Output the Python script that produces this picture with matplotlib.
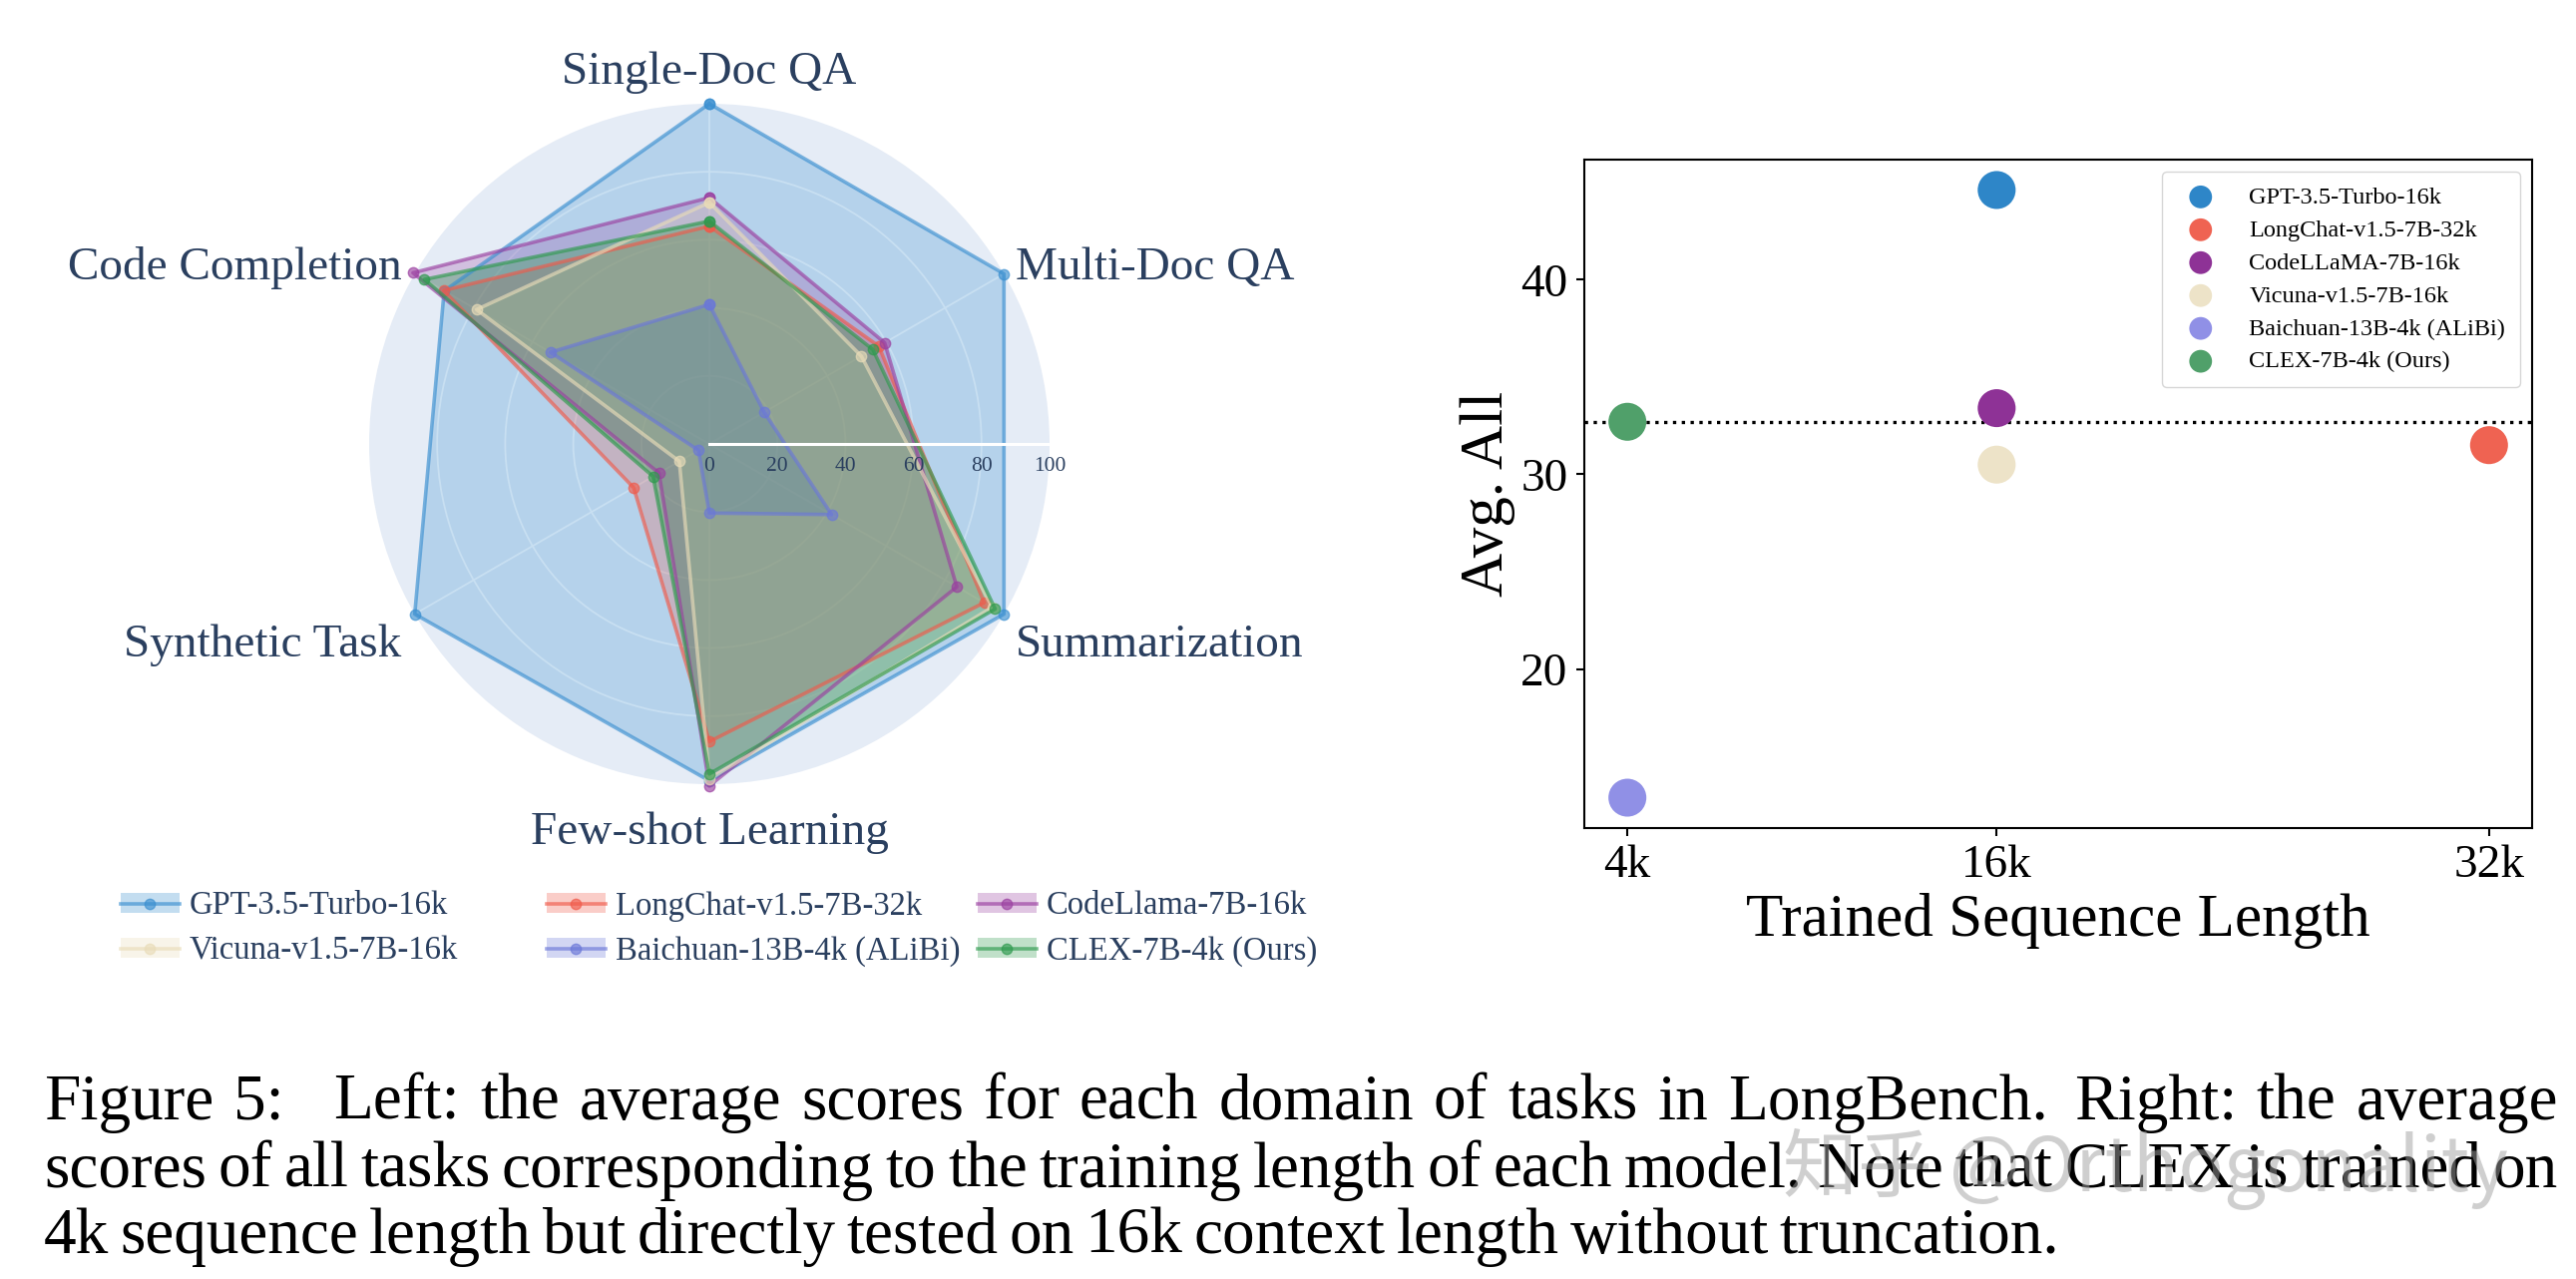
import matplotlib.pyplot as plt
from matplotlib.lines import Line2D
from matplotlib.patches import Patch
import numpy as np

plt.rcParams['font.family'] = ['Liberation Serif', 'DejaVu Serif']

W, H = 2582, 1282

# ---- radar data (left) ----
domains = ['Single-Doc QA', 'Multi-Doc QA', 'Summarization',
           'Few-shot Learning', 'Synthetic Task', 'Code Completion']
radar_models = ['GPT-3.5-Turbo-16k', 'LongChat-v1.5-7B-32k', 'CodeLlama-7B-16k',
                'Vicuna-v1.5-7B-16k', 'Baichuan-13B-4k (ALiBi)', 'CLEX-7B-4k (Ours)']
gpt_scores = [100, 100, 100, 99, 100, 90]
longchat_scores = [64, 57.5, 93.3, 87.5, 25.7, 90.2]
codellama_scores = [72.4, 59.5, 84, 100.5, 17.1, 100.6]
vicuna_scores = [71, 51.6, 96, 98.5, 10.2, 79]
baichuan_scores = [41, 18.6, 41.5, 20.3, 3.7, 53.9]
clex_scores = [65.5, 55.5, 97, 97, 19.1, 96.7]
radar_scores = [gpt_scores, longchat_scores, codellama_scores,
                vicuna_scores, baichuan_scores, clex_scores]

colors = ['#3a8fd0', '#f05a4a', '#9a3fa0', '#e9dcb8', '#6b78d8', '#2f9a4e']
radial_ticks = [0, 20, 40, 60, 80, 100]

# ---- scatter data (right) ----
scatter_models = ['GPT-3.5-Turbo-16k', 'LongChat-v1.5-7B-32k', 'CodeLLaMA-7B-16k',
                  'Vicuna-v1.5-7B-16k', 'Baichuan-13B-4k (ALiBi)', 'CLEX-7B-4k (Ours)']
train_len = [16, 32, 16, 16, 4, 4]
avg_all = [44.6, 31.5, 33.4, 30.5, 13.4, 32.7]
len_ticks = [4, 16, 32]
len_labels = ['4k', '16k', '32k']
scatter_colors = ['#2e86c8', '#ef6352', '#8e3296', '#ede3c8', '#9090e6', '#50a06a']

caption = [
    'Figure 5: Left: the average scores for each domain of tasks in LongBench. Right: the average',
    'scores of all tasks corresponding to the training length of each model. Note that CLEX is trained on',
    '4k sequence length but directly tested on 16k context length without truncation.',
]

txt = '#2a3f5f'
fig = plt.figure(figsize=(W / 100, H / 100), dpi=100)

# ================= radar =================
cx, cy, R = 711, 445, 341
ax = fig.add_axes([(cx - R) / W, (H - cy - R) / H, 2 * R / W, 2 * R / H], projection='polar')
ax.set_theta_offset(np.pi / 2)
ax.set_theta_direction(-1)
ax.set_ylim(0, 100)
ax.set_facecolor('#E5ECF6')
ax.spines['polar'].set_visible(False)
angles = np.linspace(0, 2 * np.pi, len(domains), endpoint=False)
ax.set_xticks(angles)
ax.set_xticklabels([])
ax.set_yticks([20, 40, 60, 80])
ax.set_yticklabels([])
ax.grid(color='white', lw=1.3)
ax.tick_params(length=0)

closed = np.append(angles, angles[0])
fill_alpha = [0.28, 0.25, 0.25, 0.28, 0.3, 0.35]
for vals, c, name, fa in zip(radar_scores, colors, radar_models, fill_alpha):
    v = np.append(vals, vals[0])
    ax.fill(closed, v, color=c, alpha=fa, lw=0, zorder=2)
    ax.plot(closed, v, color=c, lw=2.6, alpha=0.65, marker='o', ms=7.5, zorder=3,
            clip_on=False)

ax.plot([np.pi / 2, np.pi / 2], [0, 100], color='white', lw=2.2, zorder=5)
for t in radial_ticks:
    ax.annotate(str(t), xy=(np.pi / 2, t), xytext=(0, -22), textcoords='offset pixels',
                ha='center', va='center', fontsize=15.5, color=txt, zorder=6)

label_pos = [((0, 31), 'center', 'center'), ((12, 6), 'left', 'center'),
             ((12, -31), 'left', 'center'), ((0, -49), 'center', 'center'),
             ((-13, -31), 'right', 'center'), ((-13, 6), 'right', 'center')]
for a, name, (off, ha, va) in zip(angles, domains, label_pos):
    ax.annotate(name, xy=(a, 100), xytext=off, textcoords='offset pixels',
                ha=ha, va=va, fontsize=34, color=txt, annotation_clip=False)

# radar legend: three columns, row-major
col_x = [121, 548, 980]
for j in range(3):
    hs, ls = [], []
    for i in (j, j + 3):
        hs.append((Patch(facecolor=colors[i], alpha=0.3, lw=0),
                   Line2D([], [], color=colors[i], lw=2.6, alpha=0.65, marker='o', ms=7.5)))
        ls.append(radar_models[i])
    fig.legend(hs, ls, loc='upper left', bbox_to_anchor=(col_x[j] / W, 1 - 893 / H),
               frameon=False, fontsize=23.5, handlelength=1.8, handleheight=0.55,
               handletextpad=0.3, labelspacing=0.45, borderpad=0, borderaxespad=0,
               labelcolor=txt)

# ================= scatter =================
ax2 = fig.add_axes([1588 / W, (H - 830) / H, 950 / W, 670 / H])
for x, y, c, name in zip(train_len, avg_all, scatter_colors, scatter_models):
    ax2.scatter(x, y, s=750, color=c, label=name, edgecolors='none', zorder=3)
ax2.axhline(avg_all[-1], color='black', ls=':', lw=2.4, zorder=2)
ax2.set_xticks(len_ticks)
ax2.set_xticklabels(len_labels)
ax2.set_yticks([20, 30, 40])
ax2.tick_params(labelsize=34, width=1.5, length=6, pad=6)
for s in ax2.spines.values():
    s.set_linewidth(1.5)
ax2.set_xlabel('Trained Sequence Length', fontsize=44)
ax2.set_ylabel('Avg. All', fontsize=44)
ax2.legend(loc='upper right', fontsize=17.5, markerscale=0.6, labelspacing=0.45,
           handletextpad=1.0, borderpad=0.6)

# ================= caption =================
renderer = fig.canvas.get_renderer()


def put_line(line, y, justify):
    words = line.split(' ')
    texts = [fig.text(0, y, w, fontsize=47, va='baseline') for w in words]
    widths = [t.get_window_extent(renderer).width for t in texts]
    weights = [2.5 if w == '5:' else (1.3 if w.endswith('.') else 1.0) for w in words[:-1]]
    if justify:
        unit = (2520 - sum(widths)) / sum(weights)
    else:
        unit = 11
    x = 44
    for t, wd, g in zip(texts, widths, weights + [0]):
        t.set_x(x / W)
        x += wd + g * unit


put_line(caption[0], 1 - 1122 / H, True)
put_line(caption[1], 1 - 1190 / H, True)
put_line(caption[2], 1 - 1256 / H, False)

fig.text(1787 / W, 1 - 1172 / H, '知乎 @Orthogonality', fontsize=54, color='#a0a0a0',
         alpha=0.5, va='center', family=['Noto Sans CJK SC', 'DejaVu Sans'])

fig.savefig('out.png', dpi=100)
